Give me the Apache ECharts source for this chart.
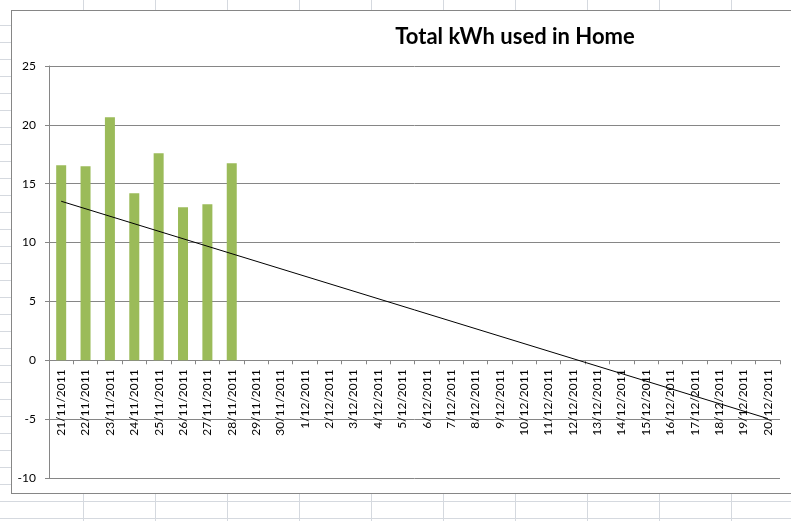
<!DOCTYPE html>
<html>
<head>
<meta charset="utf-8">
<script src="https://cdn.jsdelivr.net/npm/echarts@6/dist/echarts.min.js"></script>
<style>
  html, body { margin: 0; padding: 0; width: 791px; height: 521px; overflow: hidden; }
  body {
    background-color: #ffffff;
    background-image:
      repeating-linear-gradient(to right, transparent 0 71px, #d5d9df 71px 72px),
      repeating-linear-gradient(to bottom, transparent 0 16px, #d5d9df 16px 17px);
    background-position: 12px 0, 0 9px;
  }
  #frame {
    position: absolute; left: 11px; top: 10px; width: 800px; height: 484px;
    box-sizing: border-box; border: 1px solid #868686; background: #ffffff;
  }
  #chart { position: absolute; left: 0; top: 0; width: 791px; height: 521px; }
</style>
</head>
<body>
<div id="frame"></div>
<div id="chart"></div>
<script>
// Categories (dates)
const categories = [
  '21/11/2011','22/11/2011','23/11/2011','24/11/2011','25/11/2011','26/11/2011',
  '27/11/2011','28/11/2011','29/11/2011','30/11/2011','1/12/2011','2/12/2011',
  '3/12/2011','4/12/2011','5/12/2011','6/12/2011','7/12/2011','8/12/2011',
  '9/12/2011','10/12/2011','11/12/2011','12/12/2011','13/12/2011','14/12/2011',
  '15/12/2011','16/12/2011','17/12/2011','18/12/2011','19/12/2011','20/12/2011'
];
// Daily kWh (only first 8 days recorded)
const kwhValues = [16.57, 16.48, 20.64, 14.19, 17.59, 13.0, 13.25, 16.74];
// Linear trendline endpoints (first and last category)
const trendStart = 13.51;
const trendEnd = -4.95;
const yTicks = { min: -10, max: 25, interval: 5 };
const titleText = 'Total kWh used in Home';

const barData = categories.map((c, i) => (i < kwhValues.length ? kwhValues[i] : null));
const trendData = categories.map((c, i) =>
  i === 0 ? trendStart : (i === categories.length - 1 ? trendEnd : null));

const gridBox = { left: 49, top: 66, right: 11, bottom: 43 };
const plotHeight = 521 - gridBox.top - gridBox.bottom;
// place the category axis on the value-axis zero line
const zeroOffset = -plotHeight * (0 - yTicks.min) / (yTicks.max - yTicks.min);

const chart = echarts.init(document.getElementById('chart'), null, { renderer: 'canvas' });
const font = 'Lato, "Noto Sans", sans-serif';
chart.setOption({
  animation: false,
  backgroundColor: 'transparent',
  title: {
    text: titleText,
    left: 510, top: 21, textAlign: 'center',
    textStyle: { fontFamily: font, fontWeight: 'bold', fontSize: 22, color: '#000' }
  },
  grid: Object.assign({ containLabel: false, outerBoundsMode: 'none' }, gridBox),
  xAxis: {
    type: 'category',
    data: categories,
    boundaryGap: true,
    offset: zeroOffset,
    axisLine: { onZero: false, lineStyle: { color: '#868686', width: 1 } },
    axisTick: { show: true, length: 4, alignWithLabel: false, lineStyle: { color: '#868686' } },
    axisLabel: { rotate: 90, interval: 0, margin: 9, fontFamily: font, fontSize: 12, color: '#000' },
    splitLine: { show: false }
  },
  yAxis: {
    type: 'value',
    min: yTicks.min, max: yTicks.max, interval: yTicks.interval,
    axisLine: { show: true, lineStyle: { color: '#868686', width: 1 } },
    axisTick: { show: true, length: 4, lineStyle: { color: '#868686' } },
    axisLabel: { margin: 13, fontFamily: font, fontSize: 12, color: '#000' },
    splitLine: { show: true, lineStyle: { color: '#868686', width: 1 } }
  },
  series: [
    {
      type: 'bar', data: barData, barWidth: 10,
      itemStyle: { color: '#9bbb59' }
    },
    {
      type: 'line', data: trendData, connectNulls: true,
      symbol: 'none', lineStyle: { color: '#000', width: 1 }, z: 5
    }
  ]
});
</script>
</body>
</html>
